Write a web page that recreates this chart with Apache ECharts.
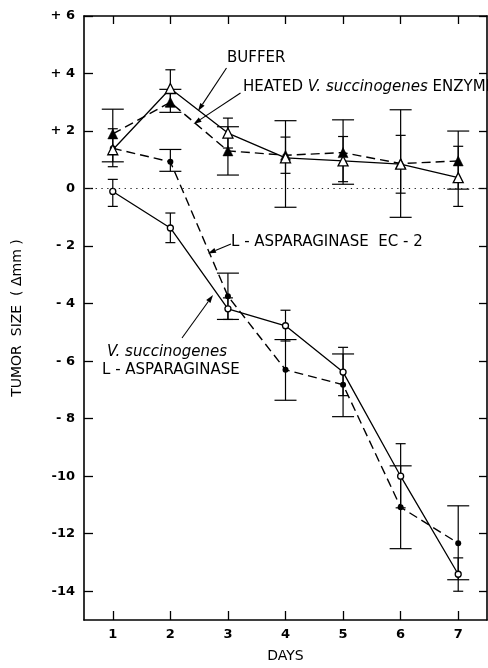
<!DOCTYPE html>
<html><head><meta charset="utf-8">
<script src="https://cdn.jsdelivr.net/npm/echarts@6/dist/echarts.min.js"></script>
<style>html,body{margin:0;padding:0;background:#fff}#c{width:488px;height:668px}</style>
</head><body><div id="c"></div>
<script>
// ---- data ----
const days = ['1', '2', '3', '4', '5', '6', '7'];
const yTickValues = [-14, -12, -10, -8, -6, -4, -2, 0, 2, 4, 6];
const yTickLabels = ['-14', '-12', '-10', '- 8', '- 6', '- 4', '- 2', '0', '+ 2', '+ 4', '+ 6'];

const buffer     = [1.35, 3.48, 1.93, 1.07, 0.96, 0.85, 0.38];
const bufferLow  = [0.76, 2.85, 1.41, 0.53, 0.24, -0.16, -0.62];
const bufferHigh = [2.08, 4.13, 2.45, 1.79, 1.81, 1.85, 1.47];

const heated     = [1.90, 3.00, 1.31, 1.16, 1.25, 0.87, 0.96];
const heatedLow  = [0.93, 2.65, 0.47, -0.65, 0.15, -1.00, -0.02];
const heatedHigh = [2.76, 3.45, 2.15, 2.36, 2.39, 2.74, 2.00];

const ec2        = [1.40, 0.93, -3.74, -6.30, -6.82, -11.08, -12.33];
const ec2Low     = [null, 0.60, -4.55, -7.36, -7.93, -12.52, -13.60];
const ec2High    = [null, 1.36, -2.94, -5.25, -5.75, -9.64, -11.03];

const vsucc      = [-0.10, -1.37, -4.18, -4.77, -6.38, -10.00, -13.41];
const vsuccLow   = [-0.62, -1.88, -4.55, -5.30, -7.20, -11.10, -14.00];
const vsuccHigh  = [0.32, -0.85, -3.80, -4.23, -5.52, -8.87, -12.84];

// ---- chart ----
const FONT = 'DejaVu Sans';
const chart = echarts.init(document.getElementById('c'), null, {renderer: 'canvas'});

function errSeries(name, low, high, capW) {
  const data = [];
  low.forEach((l, i) => { if (l != null) data.push([i, l, high[i]]); });
  return {
    type: 'custom', name: name, data: data, silent: true, z: 1,
    encode: {x: 0, y: [1, 2]},
    renderItem: function (params, api) {
      const i = api.value(0), lo = api.value(1), hi = api.value(2);
      const a = api.coord([i, hi]), b = api.coord([i, lo]);
      const h = capW / 2;
      const st = {stroke: '#000', lineWidth: 1.2};
      return {type: 'group', children: [
        {type: 'line', shape: {x1: a[0], y1: a[1], x2: b[0], y2: b[1]}, style: st},
        {type: 'line', shape: {x1: a[0] - h, y1: a[1], x2: a[0] + h, y2: a[1]}, style: st},
        {type: 'line', shape: {x1: b[0] - h, y1: b[1], x2: b[0] + h, y2: b[1]}, style: st}
      ]};
    }
  };
}

function arrow(x1, y1, x2, y2) {
  const dx = x2 - x1, dy = y2 - y1, L = Math.sqrt(dx * dx + dy * dy);
  const ux = dx / L, uy = dy / L, len = 8, w = 2.6;
  const bx = x2 - ux * len, by = y2 - uy * len;
  return [
    {type: 'line', shape: {x1: x1, y1: y1, x2: bx, y2: by}, style: {stroke: '#000', lineWidth: 1.1}, z: 10},
    {type: 'polygon', shape: {points: [[x2, y2], [bx - uy * w, by + ux * w], [bx + uy * w, by - ux * w]]},
     style: {fill: '#000'}, z: 10}
  ];
}

const txt = (x, y, text, extra) => Object.assign({
  type: 'text', x: x, y: y, z: 10,
  style: Object.assign({text: text, fill: '#000', font: '15px "' + FONT + '"', textVerticalAlign: 'middle'}, extra || {})
});

const graphics = [].concat(
  [txt(227, 58, 'BUFFER')],
  arrow(226.5, 68, 198, 111),
  [{type: 'text', x: 243, y: 87, z: 10, style: {
     text: '{n|HEATED }{i|V. succinogenes}{n| ENZYME}', textVerticalAlign: 'middle',
     rich: {
       n: {fontFamily: FONT, fontSize: 15, fill: '#000', color: '#000'},
       i: {fontFamily: FONT, fontSize: 15, fontStyle: 'italic', fill: '#000', color: '#000'}
     }}}],
  arrow(240.5, 93, 193.5, 124),
  [txt(231, 242, 'L - ASPARAGINASE  EC - 2')],
  arrow(231, 244, 208, 253.5),
  [txt(107, 352, 'V. succinogenes', {font: 'italic 15px "' + FONT + '"'}),
   txt(102, 370, 'L - ASPARAGINASE')],
  arrow(182, 338, 213, 295)
);

const lineCommon = {type: 'line', z: 3, animation: false};

const option = {
  animation: false,
  backgroundColor: '#fff',
  grid: {left: 84, right: 1, top: 16, bottom: 41, containLabel: false},
  xAxis: [{
    type: 'category', data: days, boundaryGap: true, position: 'bottom',
    name: 'DAYS', nameLocation: 'middle', nameGap: 29,
    nameTextStyle: {fontFamily: FONT, fontSize: 14, color: '#000'},
    axisLine: {show: true, onZero: false, lineStyle: {color: '#000', width: 1.6}},
    axisTick: {show: true, inside: true, alignWithLabel: true, length: 9, lineStyle: {color: '#000', width: 1.3}},
    axisLabel: {fontFamily: FONT, fontSize: 13, fontWeight: 'bold', color: '#000', margin: 8},
    splitLine: {show: false}
  }, {
    type: 'category', data: days, boundaryGap: true, position: 'top',
    axisLine: {show: true, onZero: false, lineStyle: {color: '#000', width: 1.6}},
    axisTick: {show: true, inside: true, alignWithLabel: true, length: 8, lineStyle: {color: '#000', width: 1.3}},
    axisLabel: {show: false}, splitLine: {show: false}
  }],
  yAxis: [{
    type: 'value', min: -15, max: 6, interval: 1, position: 'left',
    name: 'TUMOR  SIZE  ( Δmm )', nameLocation: 'middle', nameGap: 60, nameRotate: 90,
    nameTextStyle: {fontFamily: FONT, fontSize: 14, color: '#000'},
    axisLine: {show: true, onZero: false, lineStyle: {color: '#000', width: 1.6}},
    axisTick: {show: true, inside: true, length: 9, customValues: yTickValues, lineStyle: {color: '#000', width: 1.3}},
    axisLabel: {fontFamily: FONT, fontSize: 13, fontWeight: 'bold', color: '#000', margin: 9, customValues: yTickValues,
      formatter: v => { const k = yTickValues.indexOf(Math.round(v)); return k >= 0 ? yTickLabels[k] : ''; }},
    splitLine: {show: false}
  }, {
    type: 'value', min: -15, max: 6, interval: 1, position: 'right',
    axisLine: {show: true, onZero: false, lineStyle: {color: '#000', width: 1.6}},
    axisTick: {show: true, inside: true, length: 8, customValues: yTickValues, lineStyle: {color: '#000', width: 1.3}},
    axisLabel: {show: false}, splitLine: {show: false}
  }],
  series: [
    errSeries('bufferErr', bufferLow, bufferHigh, 10),
    errSeries('heatedErr', heatedLow, heatedHigh, 22),
    errSeries('ec2Err', ec2Low, ec2High, 22),
    errSeries('vsuccErr', vsuccLow, vsuccHigh, 10),
    Object.assign({}, lineCommon, {
      name: 'BUFFER', data: buffer, symbol: 'triangle', symbolSize: 10, z: 4,
      itemStyle: {color: '#fff', borderColor: '#000', borderWidth: 1.3},
      lineStyle: {color: '#000', width: 1.3, type: 'solid'},
      markLine: {silent: true, symbol: 'none', label: {show: false},
        lineStyle: {color: '#222', width: 1.2, type: [1.3, 4.5]}, data: [{yAxis: 0}]}
    }),
    Object.assign({}, lineCommon, {
      name: 'HEATED', data: heated, symbol: 'triangle', symbolSize: 10,
      itemStyle: {color: '#000', borderColor: '#000', borderWidth: 0.5},
      lineStyle: {color: '#000', width: 1.4, type: [9, 5]}
    }),
    Object.assign({}, lineCommon, {
      name: 'EC-2', data: ec2, symbol: 'circle', symbolSize: 6,
      itemStyle: {color: '#000'},
      lineStyle: {color: '#000', width: 1.4, type: [9, 5]}
    }),
    Object.assign({}, lineCommon, {
      name: 'V. succinogenes', data: vsucc, symbol: 'circle', symbolSize: 6, z: 4,
      itemStyle: {color: '#fff', borderColor: '#000', borderWidth: 1.3},
      lineStyle: {color: '#000', width: 1.3, type: 'solid'}
    })
  ],
  graphic: graphics
};
chart.setOption(option);
</script>
</body></html>
